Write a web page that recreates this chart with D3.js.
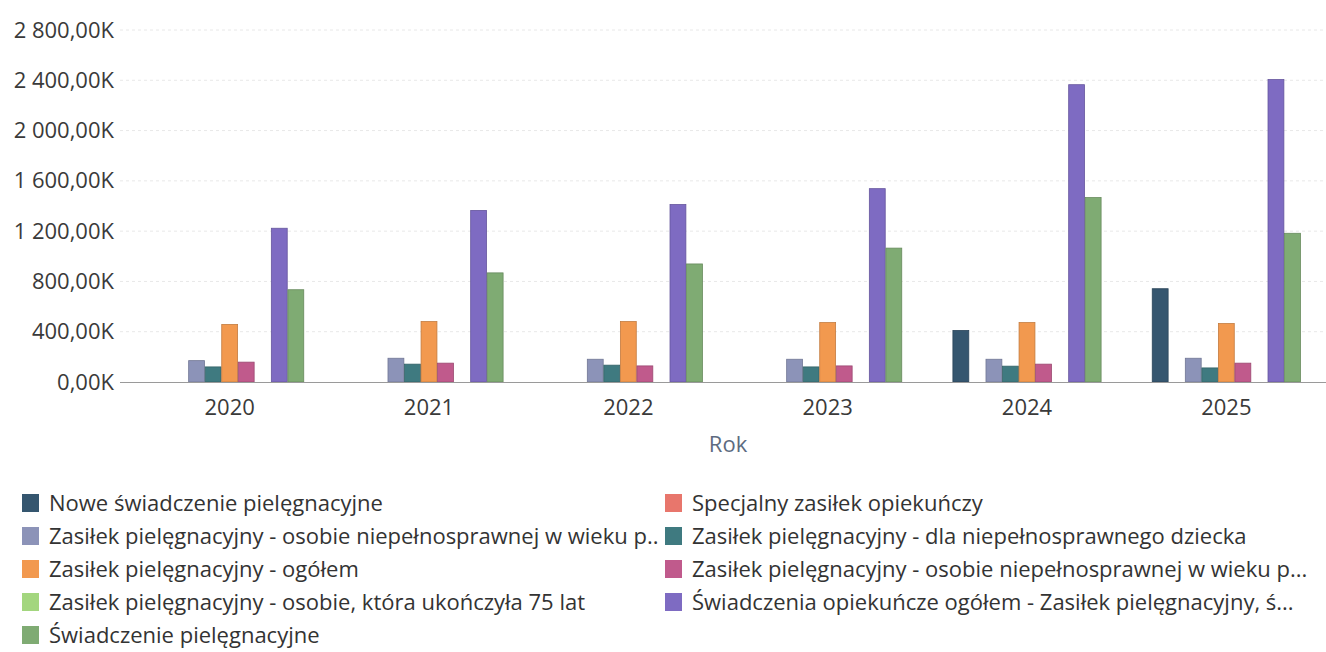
<!DOCTYPE html>
<html><head><meta charset="utf-8">
<script src="https://cdn.jsdelivr.net/npm/d3@7"></script>
<style>body{margin:0;background:#fff;}svg{display:block;font-family:"Open Sans","Noto Sans",sans-serif;}</style>
</head><body><svg id="c" width="1326" height="652"></svg>
<script>
const years = ["2020","2021","2022","2023","2024","2025"];
const seriesNames = [
  "Nowe świadczenie pielęgnacyjne",
  "Specjalny zasiłek opiekuńczy",
  "Zasiłek pielęgnacyjny -  osobie niepełnosprawnej w wieku p..",
  "Zasiłek pielęgnacyjny - dla niepełnosprawnego dziecka",
  "Zasiłek pielęgnacyjny - ogółem",
  "Zasiłek pielęgnacyjny - osobie niepełnosprawnej w wieku p...",
  "Zasiłek pielęgnacyjny - osobie, która ukończyła 75 lat",
  "Świadczenia opiekuńcze ogółem - Zasiłek pielęgnacyjny, ś...",
  "Świadczenie pielęgnacyjne"
];
const colors = ["#35566f","#e8766c","#8c93b8","#3f7a80","#f2994f","#c05a8c","#a3d67e","#7e6bc2","#7fab73"];
const nowe        = [0, 0, 0, 0, 410, 742];
const specjalny   = [0, 0, 0, 0, 0, 0];
const zpWiekuA    = [170, 189, 181, 181, 181, 189];
const zpDziecko   = [120, 142, 134, 120, 126, 112];
const zpOgolem    = [458, 481, 481, 473, 473, 465];
const zpWiekuB    = [158, 150, 128, 128, 142, 150];
const zp75        = [0, 0, 0, 0, 0, 0];
const opiekOgolem = [1223, 1365, 1412, 1538, 2365, 2406];
const swiadczPiel = [734, 868, 939, 1065, 1467, 1183];
const seriesValues = [nowe, specjalny, zpWiekuA, zpDziecko, zpOgolem, zpWiekuB, zp75, opiekOgolem, swiadczPiel];
const yTicks = [0,400,800,1200,1600,2000,2400,2800];
const xTitle = "Rok";

const svg = d3.select("#c");
const x0 = d3.scaleBand().domain(years).range([130,1326]).paddingInner(0.25).paddingOuter(0.125);
const x1 = d3.scaleBand().domain(d3.range(seriesNames.length)).range([0, x0.bandwidth()]).padding(0.04);
const y = d3.scaleLinear().domain([0,2800]).range([382,30]);

const fmt = v => { const s = d3.format(",.2f")(v).replace(/,/g," ").replace(".", ","); return s + "K"; };

// grid
svg.append("g").selectAll("line").data(yTicks.filter(d=>d>0)).join("line")
  .attr("x1",120).attr("x2",1326).attr("y1",d=>y(d)).attr("y2",d=>y(d))
  .attr("stroke","#e8e8e8").attr("stroke-dasharray","3,3").attr("stroke-width",1);

// y axis labels
const yAxis = d3.axisLeft(y).tickValues(yTicks).tickFormat(fmt).tickSize(0).tickPadding(0);
const ga = svg.append("g").attr("transform","translate(114,0)").call(yAxis);
ga.select(".domain").remove();
ga.selectAll("text").attr("font-size",22).attr("fill","#3a3a3a").attr("font-family","'Open Sans',sans-serif");

// bars
const groups = svg.append("g").selectAll("g").data(years).join("g")
  .attr("transform",d=>`translate(${x0(d)},0)`);
groups.selectAll("rect").data((d,i)=>seriesValues.map((s,k)=>({k,v:s[i]})).filter(o=>o.v>0)).join("rect")
  .attr("x",o=>x1(o.k)).attr("width",x1.bandwidth())
  .attr("y",o=>y(o.v)).attr("height",o=>y(0)-y(o.v))
  .attr("fill",o=>colors[o.k]).attr("stroke",o=>d3.color(colors[o.k]).darker(0.6)).attr("stroke-width",0.8);

// baseline
svg.append("line").attr("x1",120).attr("x2",1326).attr("y1",y(0)+0.5).attr("y2",y(0)+0.5)
  .attr("stroke","#9a9a9a").attr("stroke-width",1);

// x axis
const xAxis = d3.axisBottom(x0).tickSize(0).tickPadding(0);
const gx = svg.append("g").attr("transform",`translate(0,${y(0)+33})`).call(xAxis);
gx.select(".domain").remove();
gx.selectAll("text").attr("font-size",22).attr("fill","#3a3a3a").attr("dy",0).attr("font-family","'Open Sans',sans-serif");

svg.append("text").attr("x",(130+1326)/2).attr("y",452).attr("text-anchor","middle")
  .attr("font-size",22).attr("fill","#5d6b80").text(xTitle);

// legend: two columns, row-major
const leg = svg.append("g");
seriesNames.forEach((n,i)=>{
  const col = i%2, row = Math.floor(i/2);
  const lx = col===0 ? 22 : 665, ly = 503 + row*33;
  leg.append("rect").attr("x",lx).attr("y",ly-9).attr("width",17).attr("height",18).attr("fill",colors[i]);
  leg.append("text").attr("x",lx+27).attr("y",ly).attr("dy","0.35em").attr("font-size",22).attr("fill","#333")
    .text(n);
});
</script></body></html>
